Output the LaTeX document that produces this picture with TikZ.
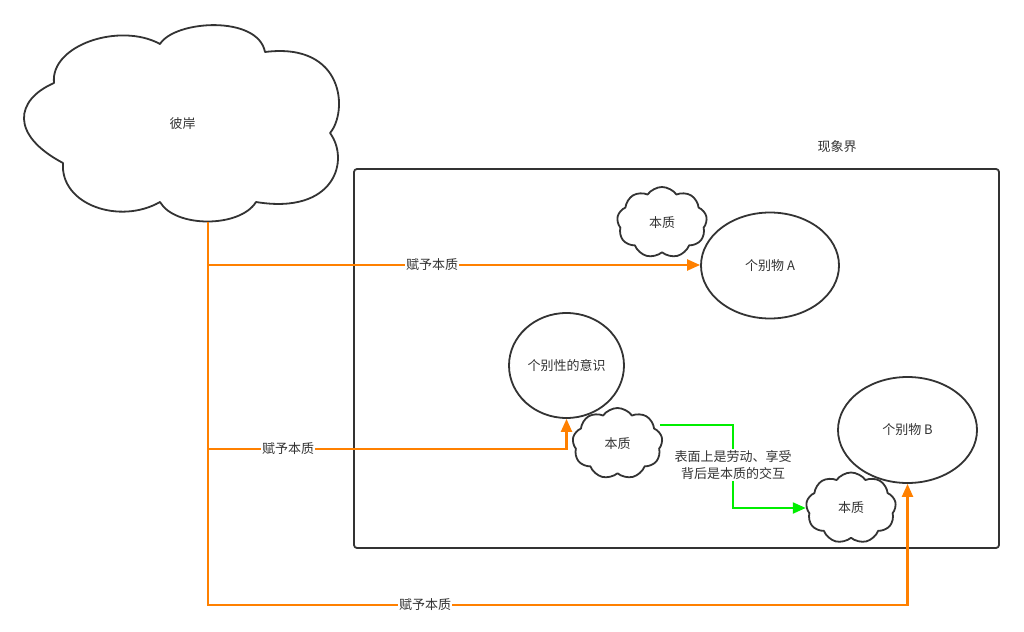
\documentclass[tikz,border=0pt]{standalone}
\usepackage{fontspec}
\newfontfamily\cjk{Noto Sans CJK SC}
\usetikzlibrary{shapes.geometric,shapes.symbols,arrows.meta}
\definecolor{ink}{HTML}{333333}
\definecolor{org}{HTML}{FF8000}
\definecolor{grn}{HTML}{00EE00}
\begin{document}
\begin{tikzpicture}[x=1pt,y=-1pt,
  txt/.style={font=\cjk\fontsize{13}{17}\selectfont, text=ink},
  outline/.style={draw=ink, line width=1.8pt, line join=round},
  ell/.style={ellipse, outline, fill=white, inner sep=0pt, txt},
  smallcloud/.style={cloud, cloud puffs=9, cloud puff arc=110, cloud ignores aspect,
    minimum width=90pt, minimum height=71pt, inner sep=0pt, outline, fill=white, txt},
  lbl/.style={txt, fill=white, inner sep=1pt},
  oarrow/.style={draw=org, line width=2.2pt, -{Triangle[length=13pt,width=11pt]}},
  garrow/.style={draw=grn, line width=2.2pt, -{Triangle[length=13pt,width=11pt]}}]
\useasboundingbox (0,0) rectangle (1024,631);

% far shore cloud
\draw[outline] (54,83) .. controls (50,45) and (120,22) .. (160,44)
  .. controls (175,20) and (258,15) .. (265,52)
  .. controls (345,42) and (348,112) .. (330,133)
  .. controls (350,160) and (335,215) .. (256,202)
  .. controls (240,228) and (175,228) .. (160,202)
  .. controls (120,225) and (60,205) .. (63,163)
  .. controls (10,135) and (15,100) .. (54,83) -- cycle;
\node[txt, minimum width=315pt, minimum height=196pt, inner sep=0pt] (far) at (182.5,124) {彼岸};

% phenomenal world frame
\node[outline, rounded corners=3pt, minimum width=645pt, minimum height=379pt, inner sep=0pt] (frame) at (676.5,358.5) {};
\node[txt] (framelbl) at (837,147) {现象界};

% essence clouds
\node[smallcloud] (ess1) at (662,222.5) {本质};
\node[smallcloud] (ess2) at (617.5,443.5) {本质};
\node[smallcloud] (ess3) at (851,508) {本质};

% individuals
\node[ell, minimum width=138pt, minimum height=106pt] (objA) at (770,265.5) {个别物 A};
\node[ell, minimum width=115pt, minimum height=105pt] (mind) at (566.5,365.5) {个别性的意识};
\node[ell, minimum width=139pt, minimum height=106pt] (objB) at (907.5,430) {个别物 B};

% orange connectors
\coordinate (t1) at (208,265);
\coordinate (t2) at (208,449);
\coordinate (t3) at (208,605);
\draw[oarrow] (t1 |- far.south) -- (t3) -| (objB.south);
\draw[oarrow] (t1) -- (t1 -| objA.west);
\draw[oarrow] (t2) -| (mind.south);
\node[lbl] (lab1) at (432,265) {赋予本质};
\node[lbl] (lab2) at (288,449) {赋予本质};
\node[lbl] (lab3) at (425,605) {赋予本质};

% green connector
\coordinate (gs) at (660,425);
\coordinate (gm) at (733,465);
\draw[garrow] (gs) -| (gm) |- (ess3.west);
\node[lbl, align=center] (glab) at (gm) {表面上是劳动、享受\\背后是本质的交互};
\end{tikzpicture}
\end{document}
